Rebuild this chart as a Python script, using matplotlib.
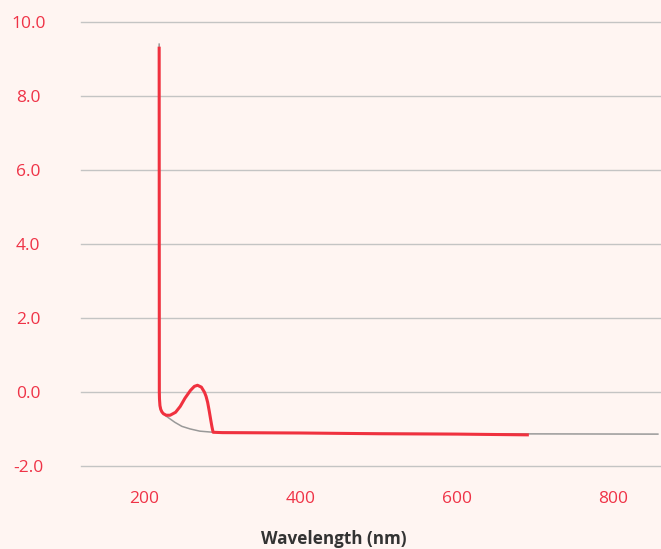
import matplotlib.pyplot as plt

# Spectrum traces (wavelength in nm)
gray_nm = [219.0, 219.2, 219.4, 220.0, 221.0, 222.5, 224.5, 229.0, 239.0, 248.0, 258.6, 271.0, 288.0, 400.0, 600.0, 857.0]
gray_val = [9.41, 0.0, -0.18, -0.36, -0.46, -0.53, -0.58, -0.66, -0.81, -0.92, -0.99, -1.05, -1.08, -1.10, -1.12, -1.13]

red_nm = [219.0, 219.2, 219.4, 220.0, 221.0, 222.5, 224.5, 228.0, 233.0, 240.0, 246.0, 252.0, 259.0, 264.0, 268.0,
          273.0, 277.0, 279.0, 281.0, 283.0, 285.0, 286.5, 288.0, 300.0, 400.0, 500.0, 600.0, 690.0]
red_val = [9.30, 0.0, -0.18, -0.36, -0.46, -0.53, -0.58, -0.62, -0.62, -0.54, -0.38, -0.16, 0.05, 0.16, 0.19,
           0.14, 0.0, -0.11, -0.27, -0.50, -0.75, -0.93, -1.08, -1.09, -1.10, -1.12, -1.13, -1.15]

x_ticks = [200, 400, 600, 800]
y_ticks = [-2, 0, 2, 4, 6, 8, 10]

bg = "#fff5f2"
red = "#f0313f"
text_red = "#ef3347"

plt.rcParams["font.family"] = ["Open Sans", "DejaVu Sans"]

fig = plt.figure(figsize=(6.61, 5.49), dpi=100, facecolor=bg)
ax = fig.add_axes([81 / 661, 1 - 466.3 / 549, 1 - 81 / 661, (466.3 - 22.3) / 549])
ax.set_facecolor(bg)

ax.plot(gray_nm, gray_val, color="#999999", linewidth=1.1, zorder=2)
ax.plot(red_nm, red_val, color=red, linewidth=2.2, zorder=3, solid_joinstyle="round")

ax.set_xlim(119, 861)
ax.set_ylim(-2, 10)
ax.set_xticks(x_ticks)
ax.set_yticks(y_ticks)
ax.set_yticklabels([f"{v:.1f}" for v in y_ticks])
ax.tick_params(axis="y", length=0, pad=38, labelsize=12.5, labelcolor=text_red)
ax.tick_params(axis="x", length=0, pad=18, labelsize=12.5, labelcolor=text_red)
for lbl in ax.get_yticklabels():
    lbl.set_horizontalalignment("center")

ax.grid(True, axis="y", color="#c4c4c4", linewidth=1)
for gl in ax.get_ygridlines():
    gl.set_clip_on(False)
ax.set_axisbelow(True)
for s in ax.spines.values():
    s.set_visible(False)

fig.text(334 / 661, 1 - 539 / 549, "Wavelength (nm)", ha="center", va="center",
         fontsize=12.3, fontweight="bold", color="#333333")

fig.savefig("out.png", dpi=100, facecolor=bg)
